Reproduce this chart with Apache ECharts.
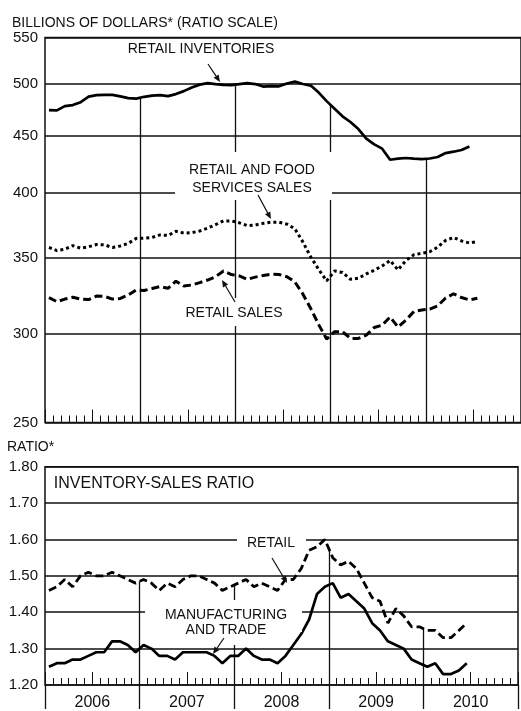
<!DOCTYPE html>
<html><head><meta charset="utf-8">
<script src="https://cdn.jsdelivr.net/npm/echarts@6/dist/echarts.min.js"></script>
<style>html,body{margin:0;padding:0;background:#fff}#c{width:521px;height:711px}</style>
</head><body><div id="c"></div>
<script>
// Monthly data, Jan 2006 onward (index 0 = Jan 2006)
const years = ['2006', '2007', '2008', '2009', '2010'];
const monthCount = 60; // Jan 2006 .. Dec 2010 on the axis
const topTicks = [250, 300, 350, 400, 450, 500, 550];

const retailInventories = [474.0, 473.8, 477.9, 478.9, 481.8, 487.3, 488.8, 489.0, 489.1, 487.5,
  485.8, 485.3, 487.1, 488.3, 488.8, 487.8, 489.8, 492.8, 496.4, 499.4,
  501.0, 500.0, 499.1, 498.9, 500.0, 501.0, 500.0, 497.4, 497.9, 497.7,
  500.5, 502.5, 500.0, 498.4, 491.3, 482.8, 475.4, 468.0, 462.6, 456.0,
  447.1, 441.9, 438.0, 428.2, 429.1, 429.7, 429.1, 428.8, 429.3, 430.6,
  434.1, 435.3, 436.8, 440.0];

const retailFoodServicesSales = [357.8, 355.5, 356.5, 359.1, 357.3, 358.3, 360.0, 359.7, 357.8, 358.9,
  360.8, 364.5, 364.7, 365.2, 367.1, 366.7, 369.8, 368.5, 368.8, 370.0,
  372.2, 374.9, 377.8, 377.8, 376.3, 374.1, 374.6, 375.9, 376.8, 376.8,
  375.3, 371.7, 361.9, 350.9, 342.0, 334.1, 341.0, 339.9, 335.2, 335.9,
  338.9, 341.5, 344.5, 348.4, 341.7, 348.4, 352.5, 353.5, 354.7, 358.0,
  363.0, 365.2, 362.6, 361.1, 362.2];

const retailSales = [322.9, 320.2, 321.9, 323.1, 321.9, 321.6, 323.9, 323.7, 321.9, 322.3,
  324.6, 328.0, 327.6, 328.9, 330.3, 329.1, 333.9, 330.6, 331.3, 332.9,
  334.7, 337.0, 341.0, 338.5, 337.5, 335.2, 336.7, 337.8, 338.7, 338.5,
  337.0, 333.4, 325.3, 315.7, 305.5, 296.6, 301.1, 301.1, 297.0, 297.0,
  299.0, 303.7, 305.2, 310.3, 304.0, 308.4, 313.8, 314.8, 315.3, 317.4,
  322.6, 325.4, 322.9, 321.3, 322.4];

const retailRatio = [1.46, 1.47, 1.49, 1.47, 1.50, 1.51, 1.50, 1.50, 1.51, 1.50,
  1.49, 1.48, 1.49, 1.48, 1.46, 1.48, 1.47, 1.49, 1.50, 1.50,
  1.49, 1.48, 1.46, 1.47, 1.48, 1.49, 1.47, 1.48, 1.47, 1.46,
  1.49, 1.49, 1.52, 1.57, 1.58, 1.60, 1.55, 1.53, 1.54, 1.52,
  1.48, 1.44, 1.43, 1.37, 1.41, 1.39, 1.36, 1.36, 1.35, 1.35,
  1.33, 1.33, 1.35, 1.37];

const mfgTradeRatio = [1.25, 1.26, 1.26, 1.27, 1.27, 1.28, 1.29, 1.29, 1.32, 1.32,
  1.31, 1.29, 1.31, 1.30, 1.28, 1.28, 1.27, 1.29, 1.29, 1.29,
  1.29, 1.28, 1.26, 1.28, 1.28, 1.30, 1.28, 1.27, 1.27, 1.26,
  1.28, 1.31, 1.34, 1.38, 1.45, 1.47, 1.48, 1.44, 1.45, 1.43,
  1.41, 1.37, 1.35, 1.32, 1.31, 1.30, 1.27, 1.26, 1.25, 1.26,
  1.23, 1.23, 1.24, 1.26];

const yearBoundaries = [12, 24, 36, 48];

const FONT = '"Liberation Sans", Arial, sans-serif';
const INK = '#111';

// each monthly value plotted at the middle of its month
const toPts = arr => arr.map((v, i) => [i + 0.5, v]);

const chart = echarts.init(document.getElementById('c'), null, { renderer: 'canvas' });

function monthAxis(grid, opts) {
  return Object.assign({
    type: 'value', gridIndex: grid, min: 0, max: monthCount, interval: 1, position: 'bottom',
    axisLine: { show: false },
    axisTick: { show: true, inside: true, length: 7, lineStyle: { color: INK, width: 1 } },
    axisLabel: { show: false },
    splitLine: { show: false }
  }, opts || {});
}

const topGridLines = topTicks.map(v => ({
  yAxis: v,
  lineStyle: { color: INK, width: 1.5, type: 'solid' },
  label: { show: true, position: 'start', distance: 7, formatter: String(v), color: INK, fontSize: 15, fontFamily: FONT }
}));

const topYearLines = yearBoundaries.map(b => [
  { coord: [b, Math.sqrt(retailInventories[b - 1] * retailInventories[b])] },
  { coord: [b, 250] }
]);

const bottomYearLines = yearBoundaries.map(b => [
  { coord: [b, (retailRatio[b - 1] + retailRatio[b]) / 2] },
  { coord: [b, 1.2] }
]);

function arrow(x1, y1, x2, y2) {
  const dx = x2 - x1, dy = y2 - y1, L = Math.hypot(dx, dy), ux = dx / L, uy = dy / L;
  const h = 7, w = 3;
  const bx = x2 - ux * h, by = y2 - uy * h;
  return [
    { type: 'line', shape: { x1: x1, y1: y1, x2: bx, y2: by }, style: { stroke: INK, lineWidth: 1.2 }, z: 101 },
    { type: 'polygon', shape: { points: [[x2, y2], [bx - uy * w, by + ux * w], [bx + uy * w, by - ux * w]] }, style: { fill: INK }, z: 101 }
  ];
}
function txt(x, y, s, size, align) {
  return { type: 'text', x: x, y: y, z: 102,
    style: { text: s, fill: INK, font: size + 'px ' + FONT, fontSize: size, fontFamily: FONT,
      textAlign: align || 'center', align: align || 'center', textVerticalAlign: 'middle', verticalAlign: 'middle' } };
}
function bg(x1, y1, x2, y2) {
  return { type: 'rect', z: 100, shape: { x: x1, y: y1, width: x2 - x1, height: y2 - y1 }, style: { fill: '#fff' } };
}

const graphics = [].concat(
  [txt(12, 23, 'BILLIONS OF DOLLARS* (RATIO SCALE)', 14, 'left'),
   txt(7, 447, 'RATIO*', 14, 'left'),
   bg(175, 152, 332, 200),
   bg(182, 298, 288, 326),
   bg(237, 533, 306, 553),
   bg(145, 602, 302, 632),
   bg(175, 600, 282, 645),
   txt(201, 49, 'RETAIL INVENTORIES', 14),
   txt(252, 170, 'RETAIL AND FOOD', 14),
   txt(252, 188, 'SERVICES SALES', 14),
   txt(234, 313, 'RETAIL SALES', 14),
   txt(154, 484, 'INVENTORY-SALES RATIO', 16),
   txt(271, 543, 'RETAIL', 14),
   txt(226, 615, 'MANUFACTURING', 14),
   txt(226, 630, 'AND TRADE', 14)],
  arrow(208, 64, 220, 82),
  arrow(258, 195, 271, 219),
  arrow(235, 302, 222, 280),
  arrow(272, 558, 287, 583),
  arrow(224, 638, 213, 654)
);

const option = {
  animation: false,
  backgroundColor: '#fff',
  grid: [
    { left: 45, top: 37.5, width: 483.6, height: 385, show: true, borderColor: INK, borderWidth: 1.5, backgroundColor: 'transparent' },
    { left: 45, top: 466.7, width: 483.6, height: 222.6, show: true, borderColor: INK, borderWidth: 1.5, backgroundColor: 'transparent' }
  ],
  xAxis: [
    monthAxis(0),
    monthAxis(0, { interval: 6, axisTick: { show: true, inside: true, length: 13, lineStyle: { color: INK, width: 1 } } }),
    monthAxis(1),
    monthAxis(1, { interval: 6, axisTick: { show: true, inside: true, length: 13, lineStyle: { color: INK, width: 1 } },
      axisLabel: { show: true, margin: 10, color: INK, fontSize: 16, fontFamily: FONT,
        formatter: v => (v % 12 === 6 ? years[(v - 6) / 12] : '') } }),
    monthAxis(1, { interval: 12, axisTick: { show: true, inside: false, length: 24, lineStyle: { color: INK, width: 1.3 } } })
  ],
  yAxis: [
    { type: 'log', logBase: 10, gridIndex: 0, min: 250, max: 550,
      axisLine: { show: false }, axisTick: { show: false }, axisLabel: { show: false }, splitLine: { show: false } },
    { type: 'value', gridIndex: 1, min: 1.2, max: 1.8, interval: 0.1,
      axisLine: { show: false }, axisTick: { show: false },
      axisLabel: { color: INK, fontSize: 15, fontFamily: FONT, margin: 7, formatter: v => v.toFixed(2) },
      splitLine: { show: true, lineStyle: { color: INK, width: 1.5 } } }
  ],
  series: [
    { name: 'Retail inventories', type: 'line', xAxisIndex: 0, yAxisIndex: 0, data: toPts(retailInventories),
      showSymbol: false, lineStyle: { color: '#000', width: 2.7 }, z: 5,
      markLine: { silent: true, symbol: ['none', 'none'], animation: false,
        data: topGridLines.concat(topYearLines.map(p => [
          Object.assign({ lineStyle: { color: INK, width: 1.3, type: 'solid' }, label: { show: false } }, p[0]), p[1]])) } },
    { name: 'Retail and food services sales', type: 'line', xAxisIndex: 0, yAxisIndex: 0, data: toPts(retailFoodServicesSales),
      showSymbol: false, lineStyle: { color: '#000', width: 3, type: [3, 3], cap: 'butt' }, z: 5 },
    { name: 'Retail sales', type: 'line', xAxisIndex: 0, yAxisIndex: 0, data: toPts(retailSales),
      showSymbol: false, lineStyle: { color: '#000', width: 3, type: [8, 4], cap: 'butt' }, z: 5 },
    { name: 'Retail ratio', type: 'line', xAxisIndex: 2, yAxisIndex: 1, data: toPts(retailRatio),
      showSymbol: false, lineStyle: { color: '#000', width: 2.8, type: [8, 4], cap: 'butt' }, z: 5,
      markLine: { silent: true, symbol: ['none', 'none'], animation: false,
        lineStyle: { color: INK, width: 1.3, type: 'solid' }, label: { show: false },
        data: bottomYearLines } },
    { name: 'Manufacturing and trade ratio', type: 'line', xAxisIndex: 2, yAxisIndex: 1, data: toPts(mfgTradeRatio),
      showSymbol: false, lineStyle: { color: '#000', width: 2.7 }, z: 5 }
  ],
  graphic: { elements: graphics }
};
chart.setOption(option);
</script></body></html>
